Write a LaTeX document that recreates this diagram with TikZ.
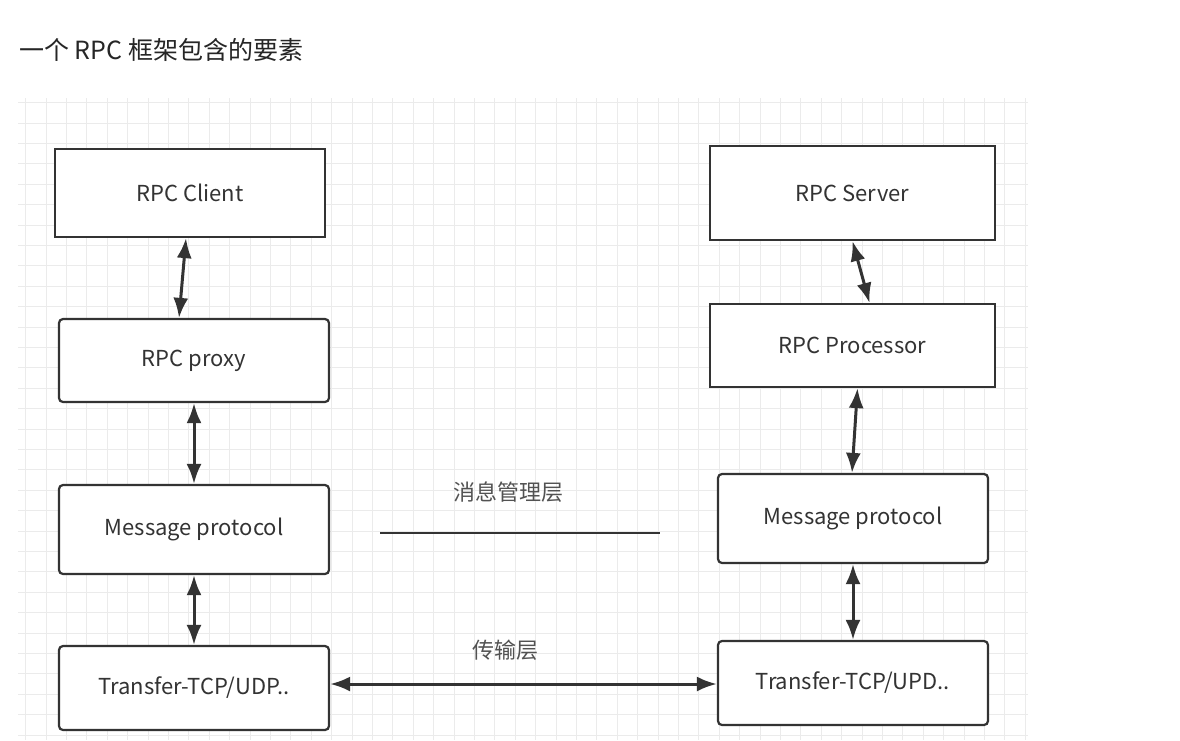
\documentclass[tikz,border=0pt]{standalone}
\usepackage{fontspec}
\setmainfont{Noto Sans CJK SC}
\usetikzlibrary{arrows.meta}
\definecolor{ink}{HTML}{333333}
\definecolor{gridc}{HTML}{EBEBEB}
\tikzset{
  px/.style={x=1pt,y=-1pt},
  box/.style={draw=ink,line width=2.2pt,fill=white,font=\fontsize{22}{26}\selectfont,text=ink},
  rbox/.style={box,rounded corners=4pt},
  dlink/.style={draw=ink,line width=3pt,arrows={Latex[length=20pt,width=15pt]-Latex[length=20pt,width=15pt]}},
  lbl/.style={font=\fontsize{22}{26}\selectfont,text=ink!85},
}
\begin{document}
\begin{tikzpicture}[px]
\useasboundingbox (0,0) rectangle (1180,740);
\fill[white] (0,0) rectangle (1180,740);
% grid
\foreach \i in {0,...,49} {\draw[gridc,line width=0.8pt] ({25.6+20.4*\i},98) -- ({25.6+20.4*\i},740);}
\foreach \j in {0,...,31} {\draw[gridc,line width=0.8pt] (18,{102.6+20.4*\j}) -- (1028,{102.6+20.4*\j});}
% title
\node[anchor=west,font=\fontsize{25}{29}\selectfont,text=black!85,inner sep=0] (title) at (19,50) {一个 RPC 框架包含的要素};
% left column
\node[box,minimum width=270pt,minimum height=88pt] (client) at (190,193) {RPC Client};
\node[rbox,minimum width=270pt,minimum height=83pt] (proxy) at (194,360.5) {RPC proxy};
\node[rbox,minimum width=270pt,minimum height=89pt] (msgl) at (194,529.5) {Message protocol};
\node[rbox,minimum width=270pt,minimum height=84pt] (tl) at (194,688) {Transfer-TCP/UDP..};
% right column
\node[box,minimum width=285pt,minimum height=94pt] (server) at (852.5,193) {RPC Server};
\node[box,minimum width=285pt,minimum height=83pt] (proc) at (852.5,345.5) {RPC Processor};
\node[rbox,minimum width=270pt,minimum height=89pt] (msgr) at (853,518.5) {Message protocol};
\node[rbox,minimum width=270pt,minimum height=84pt] (tr) at (853,683) {Transfer-TCP/UPD..};
% connectors
\draw[dlink] ([xshift=-4pt]client.south) -- ([xshift=-15pt]proxy.north);
\draw[dlink] (proxy.south) -- (msgl.north);
\draw[dlink] (msgl.south) -- (tl.north);
\draw[dlink] (server.south) -- ([xshift=17pt]proc.north);
\draw[dlink] ([xshift=5pt]proc.south) -- ([xshift=-1pt]msgr.north);
\draw[dlink] (msgr.south) -- (tr.north);
\draw[dlink] (tl.east |- 0,684) -- (tr.west |- 0,684);
% layer labels
\coordinate (la) at (380,533);
\coordinate (lb) at (660,533);
\draw[ink,line width=2.4pt] (la) -- (lb);
\node[lbl] (l1) at (508,492) {消息管理层};
\node[lbl] (l2) at (505,650) {传输层};
\end{tikzpicture}
\end{document}
